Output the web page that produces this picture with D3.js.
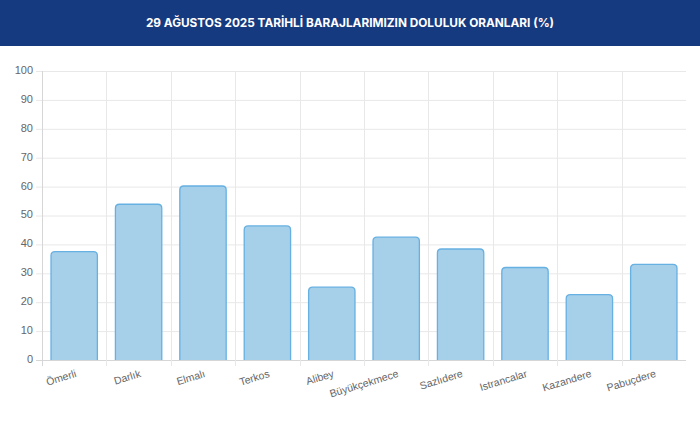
<!DOCTYPE html>
<html>
<head>
<meta charset="utf-8">
<script src="https://cdn.jsdelivr.net/npm/d3@7"></script>
<style>
  body { margin: 0; background: #fff; }
  svg { display: block; }
</style>
</head>
<body>
<svg></svg>
<script>
// baraj doluluk oranları
const barajlar = ['Ömerli', 'Darlık', 'Elmalı', 'Terkos', 'Alibey', 'Büyükçekmece', 'Sazlıdere', 'Istrancalar', 'Kazandere', 'Pabuçdere'];
const doluluk = [37.5, 53.9, 60.2, 46.4, 25.2, 42.5, 38.4, 32.0, 22.6, 33.1];
const yTicks = [0, 10, 20, 30, 40, 50, 60, 70, 80, 90, 100];
const baslik = '29 AĞUSTOS 2025 TARİHLİ BARAJLARIMIZIN DOLULUK ORANLARI (%)';

var width = 700, height = 432;
var margin = { top: 71, right: 14, bottom: 72, left: 42 };

var svg = d3.select('svg')
    .attr('width', width)
    .attr('height', height);

// title banner
svg.append('rect')
    .attr('x', 0).attr('y', 0)
    .attr('width', width).attr('height', 46)
    .attr('fill', '#163a7f');

svg.append('text')
    .attr('x', width / 2)
    .attr('y', 24)
    .attr('text-anchor', 'middle')
    .attr('dominant-baseline', 'middle')
    .attr('fill', '#fff')
    .style('font-family', 'Inter, "Open Sans", sans-serif')
    .style('font-weight', 700)
    .style('font-size', '11.8px')
    .text(baslik);

var xScale = d3.scaleBand()
    .domain(barajlar)
    .range([margin.left, width - margin.right])
    .paddingInner(0)
    .paddingOuter(0);

var yScale = d3.scaleLinear()
    .domain([0, 100])
    .range([height - margin.bottom, margin.top]);

var grid = svg.append('g');

// horizontal grid + tick marks
grid.selectAll('line.h')
    .data(yTicks)
    .enter()
    .append('line')
    .attr('class', 'h')
    .attr('x1', margin.left - 6)
    .attr('x2', width - margin.right)
    .attr('y1', function(d) { return yScale(d) + 0.5; })
    .attr('y2', function(d) { return yScale(d) + 0.5; })
    .attr('stroke', function(d) { return d === 0 ? '#d6d6d6' : '#e8e8e8'; })
    .attr('stroke-width', 1);

// vertical grid at category boundaries
var bounds = barajlar.map(function(d) { return xScale(d); });
grid.selectAll('line.v')
    .data(bounds)
    .enter()
    .append('line')
    .attr('class', 'v')
    .attr('x1', function(d) { return Math.round(d) + 0.5; })
    .attr('x2', function(d) { return Math.round(d) + 0.5; })
    .attr('y1', margin.top)
    .attr('y2', height - margin.bottom + 6)
    .attr('stroke', function(d, i) { return i === 0 ? '#d6d6d6' : '#e8e8e8'; })
    .attr('stroke-width', 1);

// y labels
svg.append('g')
    .selectAll('text')
    .data(yTicks)
    .enter()
    .append('text')
    .attr('x', margin.left - 9)
    .attr('y', function(d) { return yScale(d); })
    .attr('text-anchor', 'end')
    .attr('dominant-baseline', 'middle')
    .attr('fill', '#666')
    .style('font-family', '"Liberation Sans", Arial, sans-serif')
    .style('font-size', '11px')
    .text(function(d) { return d; });

// bars (rounded top corners)
var r = 4;
var bw = xScale.bandwidth() * 0.72;
svg.append('g')
    .selectAll('path')
    .data(barajlar)
    .enter()
    .append('path')
    .attr('d', function(d, i) {
        var x0 = xScale(d) + (xScale.bandwidth() - bw) / 2;
        var x1 = x0 + bw;
        var y0 = yScale(doluluk[i]);
        var yb = yScale(0);
        return 'M' + x0 + ',' + yb +
            'L' + x0 + ',' + (y0 + r) +
            'Q' + x0 + ',' + y0 + ' ' + (x0 + r) + ',' + y0 +
            'L' + (x1 - r) + ',' + y0 +
            'Q' + x1 + ',' + y0 + ' ' + x1 + ',' + (y0 + r) +
            'L' + x1 + ',' + yb;
    })
    .attr('fill', '#a6cfea')
    .attr('stroke', '#66b0e2')
    .attr('stroke-width', 1.3);

// x labels, rotated
svg.append('g')
    .selectAll('text')
    .data(barajlar)
    .enter()
    .append('text')
    .attr('transform', function(d) {
        var cx = xScale(d) + xScale.bandwidth() / 2 + 2;
        return 'translate(' + cx + ',' + (height - margin.bottom + 14) + ') rotate(-17)';
    })
    .attr('text-anchor', 'end')
    .attr('dominant-baseline', 'middle')
    .attr('fill', '#666')
    .style('font-family', '"Liberation Sans", Arial, sans-serif')
    .style('font-size', '10.5px')
    .text(function(d) { return d; });
</script>
</body>
</html>
